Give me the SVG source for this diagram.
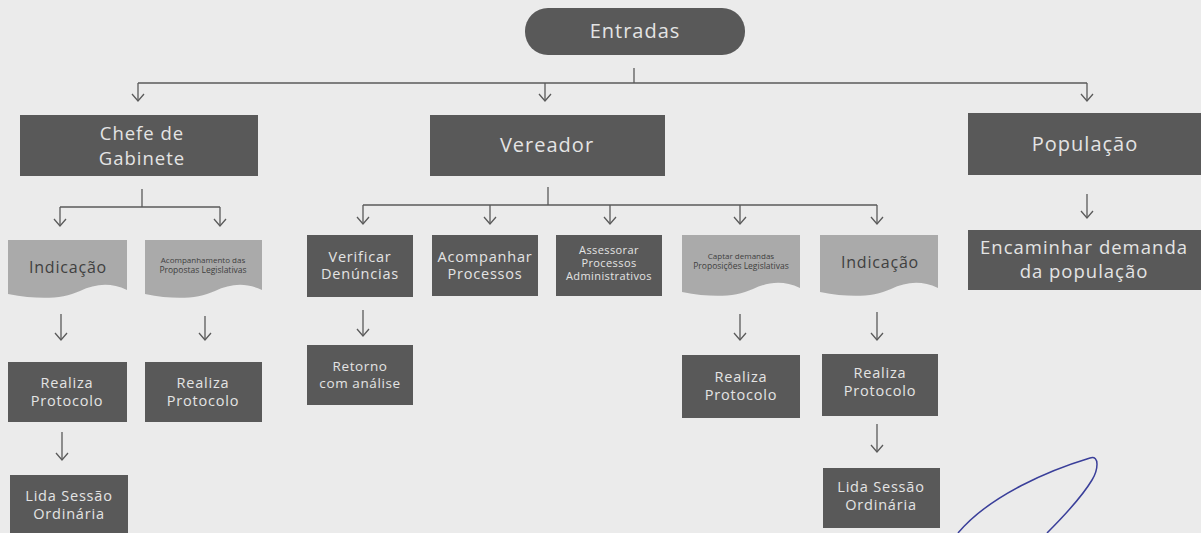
<svg xmlns="http://www.w3.org/2000/svg" width="1201" height="533" viewBox="0 0 1201 533">
<style>
.box{fill:#595959}
.doc{fill:#aaaaaa}
.t{font-family:"Open Sans","Liberation Sans",sans-serif;fill:#e4e4e4;text-anchor:middle;font-weight:500}
.big{font-size:20px;letter-spacing:1px}
.sm{font-size:14.5px;letter-spacing:0.8px}
.dt{font-family:"Open Sans","Liberation Sans",sans-serif;fill:#404040;text-anchor:middle;font-weight:500}
.c{stroke:#5a5a5a;stroke-width:1.3;fill:none}
</style>
<defs>
<marker id="ad" viewBox="0 0 14 10" refX="7" refY="9" markerWidth="14" markerHeight="10" markerUnits="userSpaceOnUse">
<polyline points="1,2 7,9 13,2" fill="none" stroke="#5a5a5a" stroke-width="1.3"/>
</marker>
</defs>
<rect width="1201" height="533" fill="#ebebeb"/>
<g id="connectors">
<line class="c" x1="634" y1="68" x2="634" y2="83"/>
<line class="c" x1="138" y1="83" x2="1087" y2="83"/>
<line class="c" x1="138" y1="83" x2="138" y2="101" marker-end="url(#ad)"/>
<line class="c" x1="545" y1="83" x2="545" y2="101" marker-end="url(#ad)"/>
<line class="c" x1="1087" y1="83" x2="1087" y2="101" marker-end="url(#ad)"/>
<line class="c" x1="142" y1="189" x2="142" y2="207"/>
<line class="c" x1="60" y1="207" x2="220" y2="207"/>
<line class="c" x1="60" y1="207" x2="60" y2="226" marker-end="url(#ad)"/>
<line class="c" x1="220" y1="207" x2="220" y2="226" marker-end="url(#ad)"/>
<line class="c" x1="61" y1="314" x2="61" y2="340" marker-end="url(#ad)"/>
<line class="c" x1="205" y1="316" x2="205" y2="340" marker-end="url(#ad)"/>
<line class="c" x1="62" y1="432" x2="62" y2="460" marker-end="url(#ad)"/>
<line class="c" x1="548" y1="187" x2="548" y2="205"/>
<line class="c" x1="363" y1="205" x2="877" y2="205"/>
<line class="c" x1="363" y1="205" x2="363" y2="224" marker-end="url(#ad)"/>
<line class="c" x1="490" y1="205" x2="490" y2="224" marker-end="url(#ad)"/>
<line class="c" x1="610" y1="205" x2="610" y2="224" marker-end="url(#ad)"/>
<line class="c" x1="740" y1="205" x2="740" y2="224" marker-end="url(#ad)"/>
<line class="c" x1="877" y1="205" x2="877" y2="224" marker-end="url(#ad)"/>
<line class="c" x1="363" y1="310" x2="363" y2="336" marker-end="url(#ad)"/>
<line class="c" x1="740" y1="314" x2="740" y2="340" marker-end="url(#ad)"/>
<line class="c" x1="877" y1="312" x2="877" y2="340" marker-end="url(#ad)"/>
<line class="c" x1="877" y1="424" x2="877" y2="452" marker-end="url(#ad)"/>
<line class="c" x1="1087" y1="194" x2="1087" y2="218" marker-end="url(#ad)"/>
</g>
<g id="entradas">
<rect class="box" x="525" y="8" width="220" height="47" rx="23"/>
<text class="t big" x="635" y="38">Entradas</text>
</g>
<g id="chefe">
<rect class="box" x="20" y="115" width="238" height="61"/>
<text class="t" x="142" y="140" font-size="18.5" letter-spacing="1">Chefe de</text>
<text class="t" x="142" y="165" font-size="18.5" letter-spacing="1">Gabinete</text>
</g>
<g id="vereador">
<rect class="box" x="430" y="115" width="235" height="61"/>
<text class="t big" x="547" y="152">Vereador</text>
</g>
<g id="populacao">
<rect class="box" x="968" y="113" width="233" height="62"/>
<text class="t big" x="1085" y="151">População</text>
</g>
<g id="indicacao1">
<path class="doc" d="M8,240 H127 V290 C110,282 95,284 80,291 C62,299 40,300 8,294 Z"/>
<text class="dt" x="68" y="273" font-size="16" letter-spacing="0.8">Indicação</text>
</g>
<g id="propostas1">
<path class="doc" d="M145,240 H262 V290 C245,282 230,284 215,291 C197,299 175,300 145,294 Z"/>
<text class="dt" x="203" y="263" font-size="8" font-weight="600">Acompanhamento das</text>
<text class="dt" x="203" y="273" font-size="8.5" font-weight="600">Propostas Legislativas</text>
</g>
<g id="protocolo1">
<rect class="box" x="8" y="362" width="119" height="60"/>
<text class="t sm" x="67" y="388">Realiza</text>
<text class="t sm" x="67" y="406">Protocolo</text>
</g>
<g id="protocolo2">
<rect class="box" x="145" y="362" width="117" height="60"/>
<text class="t sm" x="203" y="388">Realiza</text>
<text class="t sm" x="203" y="406">Protocolo</text>
</g>
<g id="lida1">
<rect class="box" x="10" y="475" width="118" height="62"/>
<text class="t sm" x="69" y="501">Lida Sessão</text>
<text class="t sm" x="69" y="519">Ordinária</text>
</g>
<g id="verificar">
<rect class="box" x="307" y="235" width="106" height="62"/>
<text class="t sm" x="360" y="262">Verificar</text>
<text class="t sm" x="360" y="279">Denúncias</text>
</g>
<g id="acompanhar">
<rect class="box" x="432" y="235" width="106" height="61"/>
<text class="t sm" x="485" y="262" letter-spacing="0.3">Acompanhar</text>
<text class="t sm" x="485" y="279">Processos</text>
</g>
<g id="assessorar">
<rect class="box" x="556" y="235" width="106" height="61"/>
<text class="t" x="609" y="254" font-size="11" letter-spacing="0.4">Assessorar</text>
<text class="t" x="609" y="267" font-size="11" letter-spacing="0.4">Processos</text>
<text class="t" x="609" y="280" font-size="11" letter-spacing="0.4">Administrativos</text>
</g>
<g id="propostas2">
<path class="doc" d="M682,235 H800 V288 C783,280 768,282 753,289 C735,297 713,298 682,292 Z"/>
<text class="dt" x="741" y="259" font-size="8" font-weight="600">Captar demandas</text>
<text class="dt" x="741" y="269" font-size="8.5" font-weight="600">Proposições Legislativas</text>
</g>
<g id="indicacao2">
<path class="doc" d="M820,235 H938 V288 C921,280 906,282 891,289 C873,297 851,298 820,292 Z"/>
<text class="dt" x="880" y="268" font-size="16" letter-spacing="0.8">Indicação</text>
</g>
<g id="retorno">
<rect class="box" x="307" y="345" width="106" height="60"/>
<text class="t" x="360" y="371" font-size="13.5" letter-spacing="0.6">Retorno</text>
<text class="t" x="360" y="388" font-size="13.5" letter-spacing="0.6">com análise</text>
</g>
<g id="protocolo3">
<rect class="box" x="682" y="355" width="118" height="63"/>
<text class="t sm" x="741" y="382">Realiza</text>
<text class="t sm" x="741" y="400">Protocolo</text>
</g>
<g id="protocolo4">
<rect class="box" x="822" y="354" width="116" height="62"/>
<text class="t sm" x="880" y="378">Realiza</text>
<text class="t sm" x="880" y="396">Protocolo</text>
</g>
<g id="lida2">
<rect class="box" x="823" y="468" width="117" height="60"/>
<text class="t sm" x="881" y="492">Lida Sessão</text>
<text class="t sm" x="881" y="510">Ordinária</text>
</g>
<g id="encaminhar">
<rect class="box" x="968" y="230" width="233" height="60"/>
<text class="t" x="1084" y="254" font-size="18.5" letter-spacing="1">Encaminhar demanda</text>
<text class="t" x="1084" y="278" font-size="18.5" letter-spacing="1">da população</text>
</g>
<path d="M958,533 C990,495 1050,470 1090,458 C1100,455 1098,470 1092,480 C1080,500 1060,520 1047,533" fill="none" stroke="#3a3f9a" stroke-width="1.5"/>
</svg>
